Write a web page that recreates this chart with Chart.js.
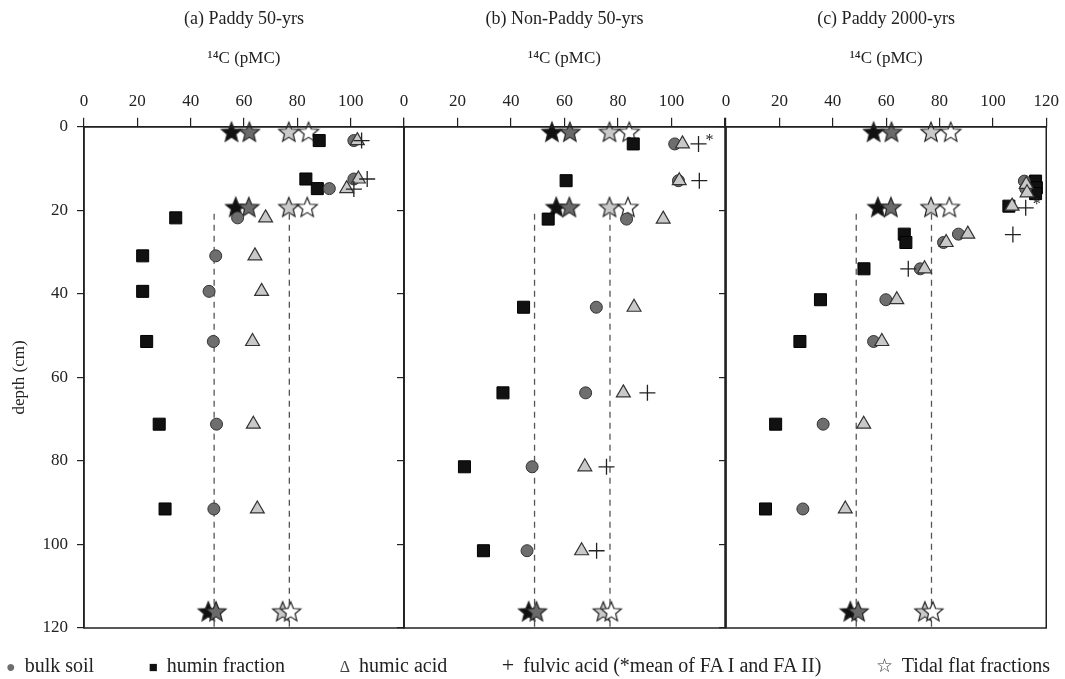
<!DOCTYPE html>
<html>
<head>
<meta charset="utf-8">
<script src="https://cdn.jsdelivr.net/npm/chart.js@4.4.0/dist/chart.umd.min.js"></script>
<style>
    body {
        margin: 0;
        width: 1065px;
        height: 679px;
        position: relative;
        overflow: hidden;
        background: #fff;
        font-family: "Liberation Serif", "Times New Roman", serif;
        color: #222;
    }
    canvas {
        position: absolute;
        left: 0;
        top: 0;
    }
    #legend {
        position: absolute;
        left: 6px;
        width: 1044px;
        top: 652px;
        display: flex;
        justify-content: space-between;
        align-items: center;
        font-size: 20px;
        white-space: nowrap;
    }
    #legend .sym {
        display: inline-block;
        margin-right: 9px;
        text-align: center;
    }
</style>
</head>
<body>
<canvas id="panelA" width="1065" height="679"></canvas>
<canvas id="panelB" width="1065" height="679"></canvas>
<canvas id="panelC" width="1065" height="679"></canvas>
<div id="legend">
    <span><span class="sym" style="color:#6e6e6e;font-size:16px">&#9679;</span>bulk soil</span>
    <span><span class="sym" style="color:#111;font-size:15px">&#9632;</span>humin fraction</span>
    <span><span class="sym" style="color:#444;font-size:16px">&#916;</span>humic acid</span>
    <span><span class="sym" style="color:#222;font-size:22px">+</span>fulvic acid (*mean of FA I and FA II)</span>
    <span><span class="sym" style="color:#333;font-size:19px">&#9734;</span>Tidal flat fractions</span>
</div>
<script>
// Data: 14C (pMC) against depth (cm)

const panelTitles = ['(a) Paddy 50-yrs', '(b) Non-Paddy 50-yrs', '(c) Paddy 2000-yrs'];
const pmcTickValues = [0, 20, 40, 60, 80, 100, 120];
const pmcLabelsAB = ['0', '20', '40', '60', '80', '100', ''];
const pmcLabelsC = ['0', '20', '40', '60', '80', '100', '120'];
const depthTickValues = [0, 20, 40, 60, 80, 100, 120];
const depthLabels = ['0', '20', '40', '60', '80', '100', '120'];

// (a) Paddy 50-yrs
const depthA = [3.3, 12.5, 14.8, 21.8, 30.9, 39.4, 51.4, 71.2, 91.5];
const bulkA = [101.2, 101.2, 92.0, 57.6, 49.4, 46.9, 48.5, 49.7, 48.7];
const huminA = [88.2, 83.2, 87.5, 34.4, 22.0, 22.0, 23.5, 28.2, 30.4];
const humicA = [102.5, 102.9, 98.5, 68.1, 64.1, 66.6, 63.2, 63.5, 65.0];
const fulvicDepthA = [3.3, 12.5, 14.9];
const fulvicA = [104.1, 106.2, 101.2];
const fulvicMeanA = [false, false, false];

// (b) Non-Paddy 50-yrs
const depthB = [4.1, 12.9, 22.1, 43.2, 63.7, 81.4, 101.5];
const bulkB = [101.2, 102.6, 83.2, 71.9, 67.9, 47.9, 46.0];
const huminB = [85.7, 60.6, 53.9, 44.7, 37.0, 22.6, 29.7];
const humicB = [104.1, 102.9, 96.9, 86.0, 82.0, 67.6, 66.4];
const fulvicDepthB = [4.1, 12.9, 63.7, 81.4, 101.5];
const fulvicB = [110.1, 110.4, 91.0, 75.7, 72.0];
const fulvicMeanB = [true, false, false, false, false];

// (c) Paddy 2000-yrs
const bulkDepthC = [13.0, 14.8, 25.7, 27.7, 34.0, 41.4, 51.4, 71.2, 91.5];
const bulkC = [111.8, 112.3, 87.1, 81.5, 72.8, 59.9, 55.3, 36.4, 28.8];
const huminDepthC = [13.0, 14.6, 16.0, 19.0, 25.7, 27.7, 34.0, 41.4, 51.4, 71.2, 91.5];
const huminC = [116.0, 116.3, 116.0, 106.0, 66.8, 67.4, 51.7, 35.4, 27.7, 18.6, 14.8];
const humicDepthC = [13.8, 15.8, 19.0, 25.7, 27.7, 34.0, 41.4, 51.4, 71.2, 91.5];
const humicC = [112.5, 112.8, 107.2, 90.6, 82.5, 74.4, 64.0, 58.4, 51.6, 44.7];
const fulvicDepthC = [19.4, 25.8, 34.0];
const fulvicC = [112.3, 107.5, 68.3];
const fulvicMeanC = [true, false, false];

// Tidal flat fractions (stars), same in every panel
const tidalDepth = [1.3, 19.3, 116.1];
const tidalBlack = [55.3, 56.9, 46.6];
const tidalDark = [62.0, 61.8, 49.5];
const tidalLight = [76.8, 76.8, 74.5];
const tidalWhite = [84.2, 83.7, 77.5];

// dashed reference lines
const refLines = [48.8, 77.0];
const refLineDepth = [20.8, 120];

Chart.defaults.font.family = '"Liberation Serif", "Times New Roman", serif';
Chart.defaults.color = '#222';

const pts = (xs, ys) => xs.map((x, i) => ({ x: x, y: ys[i] }));

// Five-pointed star used as a point style
function makeStar(fill) {
    const c = document.createElement('canvas');
    c.width = 24;
    c.height = 24;
    const g = c.getContext('2d');
    g.beginPath();
    for (let i = 0; i < 10; i++) {
        const r = i % 2 === 0 ? 10.5 : 4.6;
        const a = -Math.PI / 2 + i * Math.PI / 5;
        g.lineTo(12 + r * Math.cos(a), 12.5 + r * Math.sin(a));
    }
    g.closePath();
    g.fillStyle = fill;
    g.fill();
    g.lineWidth = 1.2;
    g.strokeStyle = '#222';
    g.stroke();
    return c;
}

const starBlack = makeStar('#111');
const starDark = makeStar('#6a6a6a');
const starLight = makeStar('#c9c9c9');
const starWhite = makeStar('#fff');

// Box round the plot area
const frame = {
    id: 'frame',
    afterDraw(chart) {
        const { ctx, chartArea: a } = chart;
        ctx.save();
        ctx.strokeStyle = '#222';
        ctx.lineWidth = 1.5;
        ctx.strokeRect(a.left, a.top, a.right - a.left, a.bottom - a.top);
        ctx.restore();
    }
};

// "*" beside fulvic acid values that are a mean of FA I and FA II
const meanMark = {
    id: 'meanMark',
    afterDatasetsDraw(chart) {
        const ctx = chart.ctx;
        chart.data.datasets.forEach((ds, i) => {
            if (!ds.meanFlags) return;
            chart.getDatasetMeta(i).data.forEach((el, j) => {
                if (!ds.meanFlags[j]) return;
                ctx.save();
                ctx.font = '16px "Liberation Serif"';
                ctx.fillStyle = '#222';
                ctx.textBaseline = 'middle';
                ctx.fillText('*', el.x + 7, el.y - 3);
                ctx.restore();
            });
        });
    }
};

function buildDatasets(p) {
    const starSet = (data, style) => ({
        data: pts(data, tidalDepth),
        pointStyle: style,
        pointRadius: 10,
        clip: false
    });
    return [
        {
            data: pts(p.fulvic, p.fulvicDepth),
            meanFlags: p.fulvicMean,
            pointStyle: 'cross',
            pointRadius: 8,
            borderColor: '#222',
            borderWidth: 1.3
        },
        {
            data: pts(p.humic, p.humicDepth),
            pointStyle: 'triangle',
            pointRadius: 8,
            backgroundColor: '#c9c9c9',
            borderColor: '#333',
            borderWidth: 1.2
        },
        {
            data: pts(p.bulk, p.bulkDepth),
            pointStyle: 'circle',
            pointRadius: 6,
            backgroundColor: '#6e6e6e',
            borderColor: '#333',
            borderWidth: 1
        },
        {
            data: pts(p.humin, p.huminDepth),
            pointStyle: 'rect',
            pointRadius: 8.5,
            backgroundColor: '#111',
            borderColor: '#000',
            borderWidth: 1
        },
        starSet(tidalWhite, starWhite),
        starSet(tidalLight, starLight),
        starSet(tidalDark, starDark),
        starSet(tidalBlack, starBlack),
        ...refLines.map(v => ({
            data: pts([v, v], refLineDepth),
            showLine: true,
            pointRadius: 0,
            borderColor: '#555',
            borderWidth: 1.3,
            borderDash: [6, 5]
        }))
    ];
}

function makePanel(id, p) {
    return new Chart(document.getElementById(id), {
        type: 'scatter',
        data: { datasets: buildDatasets(p) },
        options: {
            responsive: false,
            animation: false,
            events: [],
            layout: {
                padding: { left: p.left - p.yWidth, right: 1065 - p.right, top: 0, bottom: 679 - 628 }
            },
            plugins: {
                legend: { display: false },
                tooltip: { enabled: false },
                title: {
                    display: true,
                    fullSize: false,
                    text: p.title,
                    color: '#222',
                    font: { size: 18, weight: 'normal' },
                    padding: { top: 8, bottom: 0 }
                }
            },
            scales: {
                x: {
                    type: 'linear',
                    position: 'top',
                    min: 0,
                    max: 120,
                    afterFit: s => { s.height = 97.2; },
                    ticks: {
                        stepSize: 20,
                        padding: 6,
                        color: '#222',
                        font: { size: 17 },
                        maxRotation: 0,
                        callback: v => p.xLabels[pmcTickValues.indexOf(v)]
                    },
                    grid: { drawOnChartArea: false, tickLength: 9, color: '#222', lineWidth: 1.2 },
                    border: { color: '#222', width: 1.5 },
                    title: {
                        display: true,
                        text: '\u00B9\u2074C (pMC)',
                        color: '#222',
                        font: { size: 17 },
                        padding: { top: 19, bottom: 0 }
                    }
                },
                y: {
                    type: 'linear',
                    reverse: true,
                    min: 0,
                    max: 120,
                    afterFit: s => { s.width = p.yWidth; },
                    ticks: {
                        stepSize: 20,
                        padding: 9,
                        color: '#222',
                        font: { size: 17 },
                        display: p.showY,
                        callback: v => depthLabels[depthTickValues.indexOf(v)]
                    },
                    grid: { drawOnChartArea: false, tickLength: 7, color: '#222', lineWidth: 1.2 },
                    border: { color: '#222', width: 1.5 },
                    title: {
                        display: p.showY,
                        text: 'depth (cm)',
                        color: '#222',
                        font: { size: 17 },
                        padding: { top: 9, bottom: 0 }
                    }
                }
            }
        },
        plugins: [frame, meanMark]
    });
}

makePanel('panelA', {
    title: panelTitles[0], left: 84, right: 404, yWidth: 84, showY: true, xLabels: pmcLabelsAB,
    bulk: bulkA, bulkDepth: depthA, humin: huminA, huminDepth: depthA,
    humic: humicA, humicDepth: depthA,
    fulvic: fulvicA, fulvicDepth: fulvicDepthA, fulvicMean: fulvicMeanA
});

makePanel('panelB', {
    title: panelTitles[1], left: 404, right: 725, yWidth: 9, showY: false, xLabels: pmcLabelsAB,
    bulk: bulkB, bulkDepth: depthB, humin: huminB, huminDepth: depthB,
    humic: humicB, humicDepth: depthB,
    fulvic: fulvicB, fulvicDepth: fulvicDepthB, fulvicMean: fulvicMeanB
});

makePanel('panelC', {
    title: panelTitles[2], left: 726, right: 1047, yWidth: 9, showY: false, xLabels: pmcLabelsC,
    bulk: bulkC, bulkDepth: bulkDepthC, humin: huminC, huminDepth: huminDepthC,
    humic: humicC, humicDepth: humicDepthC,
    fulvic: fulvicC, fulvicDepth: fulvicDepthC, fulvicMean: fulvicMeanC
});
</script>
</body>
</html>
